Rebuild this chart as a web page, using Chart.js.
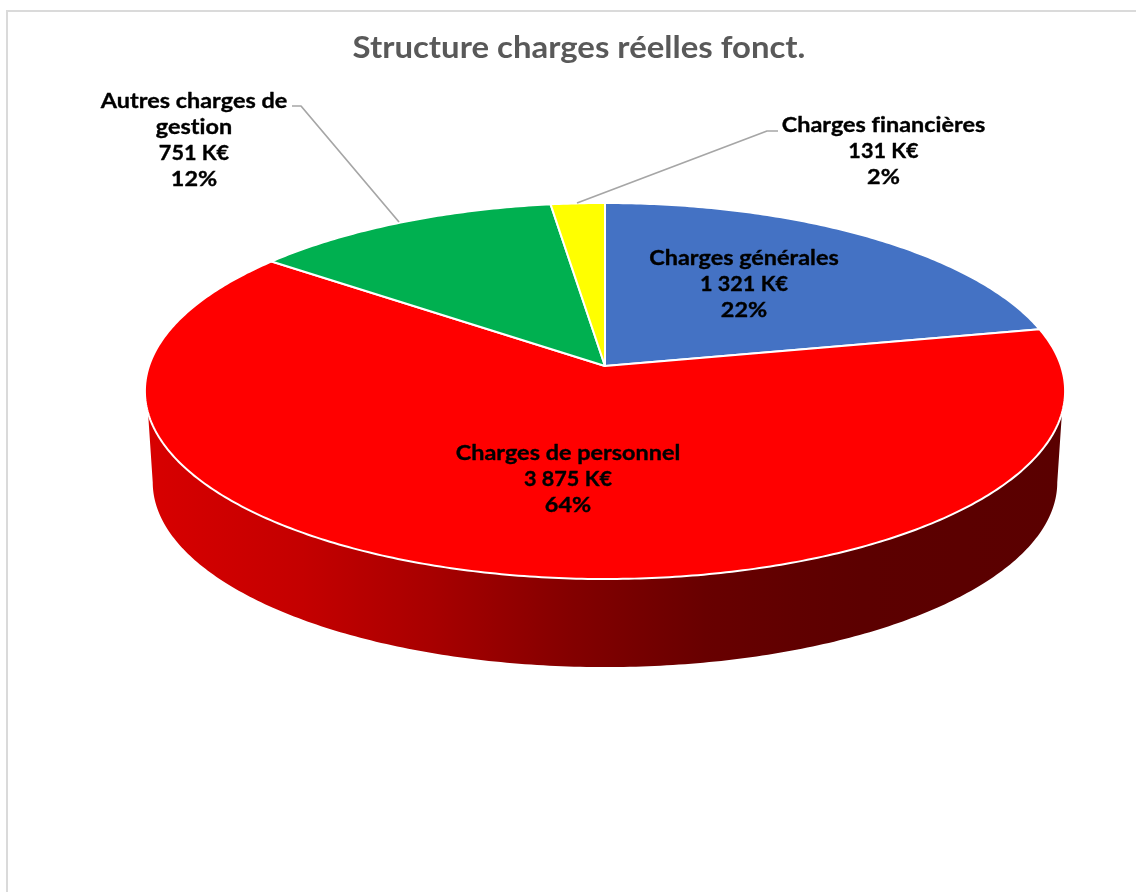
<!DOCTYPE html>
<html lang="fr">
<head>
<meta charset="utf-8">
<title>Structure charges réelles fonct.</title>
<script src="https://cdn.jsdelivr.net/npm/chart.js@4/dist/chart.umd.min.js"></script>
<style>
  html, body { margin: 0; padding: 0; background: #fff; }
  #frame { position: absolute; left: 6px; top: 10px; right: 0; bottom: 0; border-left: 2px solid #dadada; border-top: 2px solid #dadada; }
  canvas { position: absolute; left: 0; top: 0; }
</style>
</head>
<body>
<div id="frame"></div>
<canvas id="chart" width="1136" height="892"></canvas>
<script>
// Budget lines, in K€
const categories = ['Charges générales', 'Charges de personnel', 'Autres charges de gestion', 'Charges financières'];
const amounts = [1321, 3875, 751, 131];
const sliceColors = ['#4472C4', '#FF0000', '#00B050', '#FFFF00'];
const chartTitle = 'Structure charges réelles fonct.';

// Label text broken over lines, and where each block sits on the page
const nameLines = [['Charges générales'], ['Charges de personnel'], ['Autres charges de', 'gestion'], ['Charges financières']];
const labelCenters = [[744, 259], [568, 454], [194, 102], [883.5, 126]];
const leaderLines = [null, null, [[292, 106], [301, 106], [399, 222]], [[778, 131], [767, 131], [577, 203]]];

// Perspective of the tilted disc
const PIE_RADIUS = 456;
const TILT = 0.405;
const KEYSTONE = 0.133;
const BASE_SCALE = 0.983;
const BASE_DROP = 91.7;

const LABEL_FONT = '700 20px Lato';
const LABEL_STRETCH = 1.17;
const AMOUNT_STRETCH = 1.08;
const TITLE_STRETCH = 1.097;
const TITLE_AXIS = 579;

function project(arc, angle, scale, drop) {
  const u = Math.cos(angle), v = Math.sin(angle);
  const w = 1 - KEYSTONE * v;
  return {
    x: arc.x + scale * PIE_RADIUS * u / w,
    y: arc.y + drop + scale * PIE_RADIUS * TILT * v / w
  };
}

function formatAmount(value) {
  return String(value).replace(/\B(?=(\d{3})+$)/g, '\u00A0') + '\u00A0K€';
}

const tiltedPie = {
  id: 'tiltedPie',
  afterLayout(chart) {
    // Title sits slightly left of the disc's axis and runs wide
    const block = chart.titleBlock;
    block.left = 2 * TITLE_AXIS - block.right;
    if (!block.wideDraw) {
      const plainDraw = block.draw;
      block.wideDraw = true;
      block.draw = function () {
        const ctx = this.ctx;
        ctx.save();
        ctx.translate(TITLE_AXIS, 0);
        ctx.scale(TITLE_STRETCH, 1);
        ctx.translate(-TITLE_AXIS, 0);
        plainDraw.call(this);
        ctx.restore();
      };
    }
  },
  beforeDatasetDraw(chart, args) {
    const ctx = chart.ctx;
    const arcs = chart.getDatasetMeta(args.index).data;
    const first = arcs[0];

    // Side wall: front of the rim down to the base outline
    const shade = ctx.createLinearGradient(146, 0, 1064, 0);
    shade.addColorStop(0, '#d80000');
    shade.addColorStop(0.17, '#c40000');
    shade.addColorStop(0.31, '#a80000');
    shade.addColorStop(0.46, '#840000');
    shade.addColorStop(0.61, '#680000');
    shade.addColorStop(0.71, '#600000');
    shade.addColorStop(0.78, '#5c0000');
    shade.addColorStop(1, '#5a0000');
    const rimStart = Math.asin(0.246), baseStart = Math.asin(KEYSTONE);
    ctx.beginPath();
    for (let i = 0; i <= 240; i++) {
      const a = rimStart + (Math.PI - 2 * rimStart) * i / 240;
      const p = project(first, a, 1, 0);
      i ? ctx.lineTo(p.x, p.y) : ctx.moveTo(p.x, p.y);
    }
    for (let i = 240; i >= 0; i--) {
      const a = baseStart + (Math.PI - 2 * baseStart) * i / 240;
      const p = project(first, a, BASE_SCALE, BASE_DROP);
      ctx.lineTo(p.x, p.y);
    }
    ctx.closePath();
    ctx.fillStyle = shade;
    ctx.fill();

    // Top face: each slice follows the angles the arc element was given
    arcs.forEach((arc, i) => {
      const span = arc.endAngle - arc.startAngle;
      const steps = Math.max(8, Math.ceil(span * 90));
      ctx.beginPath();
      ctx.moveTo(arc.x, arc.y);
      for (let s = 0; s <= steps; s++) {
        const p = project(arc, arc.startAngle + span * s / steps, 1, 0);
        ctx.lineTo(p.x, p.y);
      }
      ctx.closePath();
      ctx.fillStyle = sliceColors[i];
      ctx.fill();
      ctx.lineWidth = 2;
      ctx.lineJoin = 'round';
      ctx.strokeStyle = '#ffffff';
      ctx.stroke();
    });
    return false;
  },
  afterDatasetsDraw(chart) {
    const ctx = chart.ctx;
    const total = amounts.reduce((a, b) => a + b, 0);

    ctx.strokeStyle = '#a6a6a6';
    ctx.lineWidth = 1.7;
    leaderLines.forEach(path => {
      if (!path) return;
      ctx.beginPath();
      path.forEach(([x, y], i) => i ? ctx.lineTo(x, y) : ctx.moveTo(x, y));
      ctx.stroke();
    });

    ctx.fillStyle = '#000000';
    ctx.strokeStyle = '#000000';
    ctx.lineWidth = 0.35;
    ctx.font = LABEL_FONT;
    ctx.letterSpacing = '0.02px'; // keeps "fi" as two separate glyphs
    ctx.textAlign = 'center';
    ctx.textBaseline = 'middle';
    amounts.forEach((value, i) => {
      const amountLine = nameLines[i].length;
      const lines = [...nameLines[i], formatAmount(value), Math.round(value / total * 100) + '%'];
      const [cx, cy] = labelCenters[i];
      lines.forEach((line, n) => {
        ctx.save();
        ctx.translate(cx, cy + n * 26);
        ctx.scale(n === amountLine ? AMOUNT_STRETCH : LABEL_STRETCH, 1);
        ctx.fillText(line, 0, 0);
        ctx.strokeText(line, 0, 0);
        ctx.restore();
      });
    });
    ctx.letterSpacing = '0px';
  }
};

new Chart(document.getElementById('chart'), {
  type: 'pie',
  data: {
    labels: categories,
    datasets: [{ data: amounts, backgroundColor: sliceColors, radius: PIE_RADIUS }]
  },
  options: {
    responsive: false,
    animation: false,
    layout: { padding: { left: 74, right: 0, top: 0, bottom: 226 } },
    plugins: {
      legend: { display: false },
      tooltip: { enabled: false },
      title: {
        display: true,
        text: chartTitle,
        color: '#595959',
        font: { family: 'Lato', size: 30, weight: '700', lineHeight: 1.2 },
        padding: { top: 30, bottom: 0 }
      }
    }
  },
  plugins: [tiltedPie]
});
</script>
</body>
</html>
